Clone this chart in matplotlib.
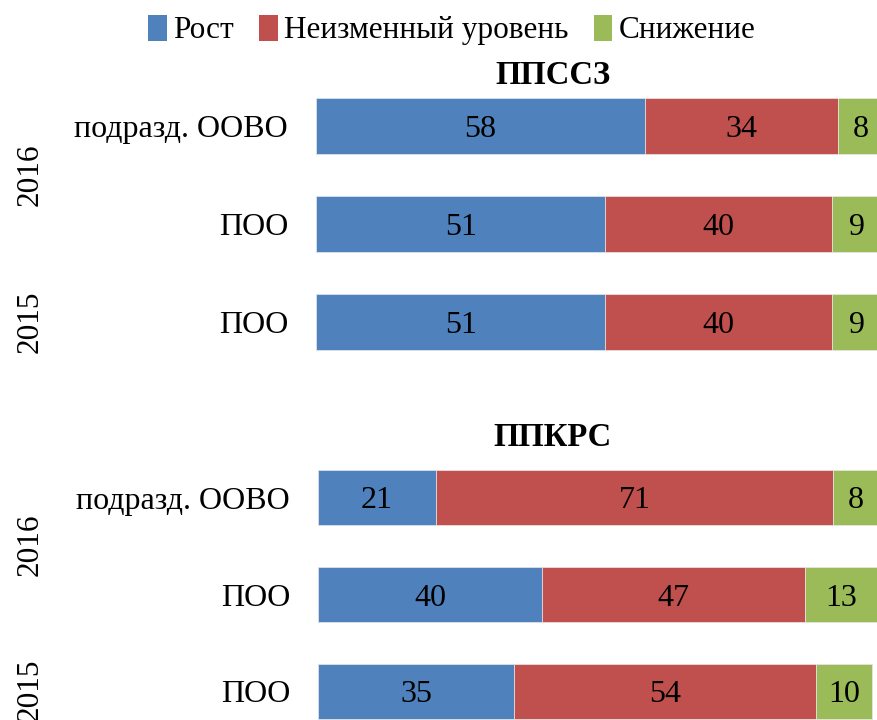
import matplotlib.pyplot as plt
from matplotlib.patches import Patch

plt.rcParams['font.family'] = ['Liberation Serif', 'DejaVu Serif']

series_names = ['Рост', 'Неизменный уровень', 'Снижение']
colors = ['#4F81BD', '#C0504D', '#9BBB59']

categories = ['подразд. ООВО', 'ПОО', 'ПОО']
years = ['2016', '2015']

ppssz_title = 'ППССЗ'
ppssz_growth = [58, 51, 51]
ppssz_same = [34, 40, 40]
ppssz_drop = [8, 9, 9]

ppkrs_title = 'ППКРС'
ppkrs_growth = [21, 40, 35]
ppkrs_same = [71, 47, 54]
ppkrs_drop = [8, 13, 10]

W, H = 877, 720
fig = plt.figure(figsize=(W / 100, H / 100), dpi=100)


def draw_panel(rect, title, values, title_y, year_y):
    ax = fig.add_axes(rect)
    y = list(range(len(categories)))
    left = [0] * len(categories)
    for vals, color in zip(values, colors):
        bars = ax.barh(y, vals, left=left, height=0.57, color=color,
                       edgecolor='#e8e8e8', linewidth=0.5)
        texts = ax.bar_label(bars, labels=[str(v) for v in vals],
                             label_type='center', fontsize=23)
        for t in texts:
            t.set_va('center_baseline')
        left = [a + b for a, b in zip(left, vals)]
    ax.set_xlim(0, 100)
    ax.set_ylim(len(categories) - 0.5, -0.5)
    ax.set_yticks(y)
    ax.set_yticklabels(categories, fontsize=23)
    ax.tick_params(axis='y', length=0, pad=20)
    ax.tick_params(axis='x', bottom=False, labelbottom=False)
    for s in ax.spines.values():
        s.set_visible(False)
    fig.text(553 / W, 1 - title_y / H, title, ha='center', va='center',
             fontsize=23.5, fontweight='bold')
    for yr, yy in zip(years, year_y):
        fig.text(30 / W, 1 - yy / H, yr, ha='center', va='center',
                 rotation=90, fontsize=22.5)
    return ax


# top panel: bars centred at 127, 224, 322 px
draw_panel([316 / W, 1 - 371 / H, 567 / W, 294 / H], ppssz_title,
           [ppssz_growth, ppssz_same, ppssz_drop], 75, [175, 322])
# bottom panel: bars centred at 497, 594, 691 px
draw_panel([318 / W, 1 - 740 / H, 560 / W, 291 / H], ppkrs_title,
           [ppkrs_growth, ppkrs_same, ppkrs_drop], 438, [545, 690])

handles = [Patch(facecolor=c) for c in colors]
fig.legend(handles, series_names, loc='center', bbox_to_anchor=(452 / W, 1 - 30 / H),
           ncol=3, frameon=False, fontsize=22.5, handlelength=0.6, handleheight=0.9,
           handletextpad=0.2, columnspacing=0.8, borderpad=0)

fig.savefig('out.png', dpi=100)
